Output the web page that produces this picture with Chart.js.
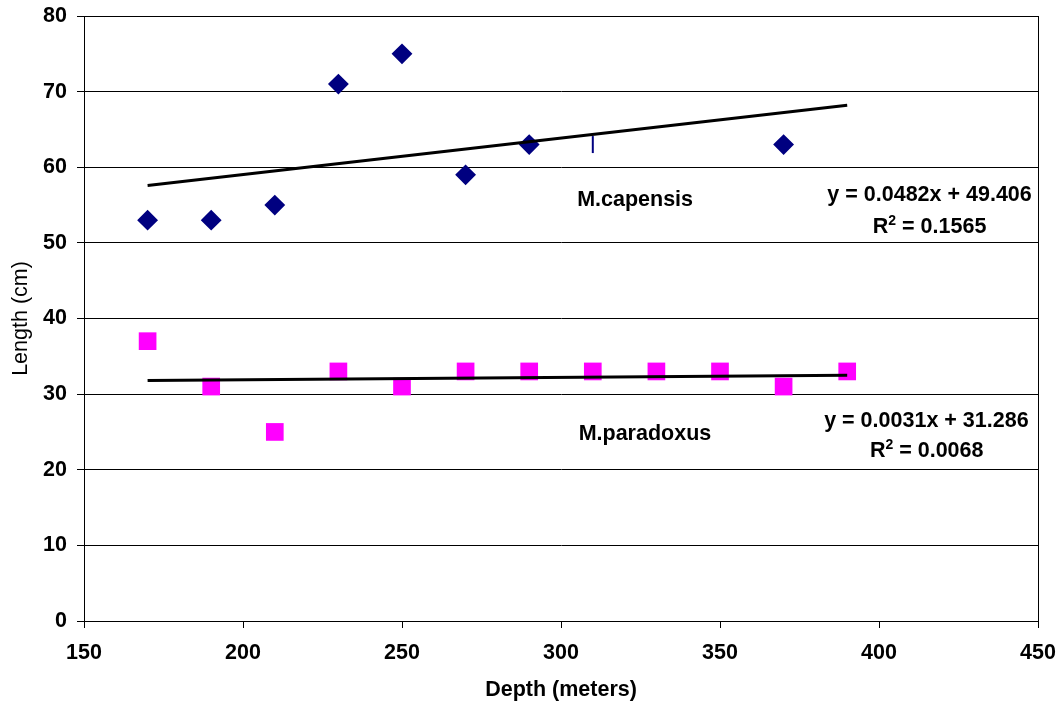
<!DOCTYPE html>
<html>
<head>
<meta charset="utf-8">
<title>Length vs depth</title>
<script src="https://cdn.jsdelivr.net/npm/chart.js@4/dist/chart.umd.min.js"></script>
<style>
    html, body { margin: 0; padding: 0; background: #fff; }
    #wrap { width: 1062px; height: 709px; }
</style>
</head>
<body>
<div id="wrap"><canvas id="lengthChart"></canvas></div>
<script>
// Depth (m) and mean length (cm) per species
const capensisDepth = [170, 190, 210, 230, 250, 270, 290, 310, 370];
const capensisLength = [53, 53, 55, 71, 75, 59, 63, 63, 63];
const paradoxusDepth = [170, 190, 210, 230, 250, 270, 290, 310, 330, 350, 370, 390];
const paradoxusLength = [37, 31, 25, 33, 31, 33, 33, 33, 33, 33, 31, 33];

// Linear trend: [slope, intercept], drawn over the depth range
const capensisFit = [0.0482, 49.406];
const paradoxusFit = [0.0031, 31.286];
const fitRange = [170, 390];

const xTicks = [150, 200, 250, 300, 350, 400, 450];
const yTicks = [0, 10, 20, 30, 40, 50, 60, 70, 80];

const FONT = '"Liberation Sans", Arial, sans-serif';

const toPoints = (xs, ys) => xs.map((x, i) => ({ x: x, y: ys[i] }));
const fitLine = fit => fitRange.map(x => ({ x: x, y: fit[0] * x + fit[1] }));

// odd point at 310 m shows up as a short vertical dash
const capStyles = capensisDepth.map(d => d === 310 ? 'line' : 'rectRot');
const capRotation = capensisDepth.map(d => d === 310 ? 90 : 0);
const capRadius = capensisDepth.map(d => d === 310 ? 8.5 : 9);

// text drawn in the plot, placed in axis units; sup = superscript after the first part
const notes = [
    { text: 'M.capensis', x: 323.3, y: 54.9 },
    { text: 'M.paradoxus', x: 326.4, y: 23.9 },
    { text: 'y = 0.0482x + 49.406', x: 415.9, y: 55.5 },
    { text: 'R', sup: '2', rest: ' = 0.1565', x: 415.9, y: 51.3 },
    { text: 'y = 0.0031x + 31.286', x: 414.9, y: 25.6 },
    { text: 'R', sup: '2', rest: ' = 0.0068', x: 415.0, y: 21.7 }
];

const BOLD = 'bold 21.5px ' + FONT;
const SUP = 'bold 14px ' + FONT;

const framePlugin = {
    id: 'frame',
    beforeDatasetsDraw(chart) {
        const { ctx, chartArea: a } = chart;
        ctx.save();
        ctx.strokeStyle = '#000';
        ctx.lineWidth = 1;
        ctx.strokeRect(Math.round(a.left) + 0.5, Math.round(a.top) + 0.5,
            Math.round(a.right - a.left), Math.round(a.bottom - a.top));
        ctx.restore();
    },
    afterDatasetsDraw(chart) {
        const { ctx, scales } = chart;
        ctx.save();
        ctx.fillStyle = '#000';
        ctx.textBaseline = 'alphabetic';
        ctx.textAlign = 'left';
        notes.forEach(n => {
            const px = scales.x.getPixelForValue(n.x);
            const py = scales.y.getPixelForValue(n.y);
            ctx.font = BOLD;
            const w1 = ctx.measureText(n.text).width;
            const w3 = n.rest ? ctx.measureText(n.rest).width : 0;
            ctx.font = SUP;
            const w2 = n.sup ? ctx.measureText(n.sup).width : 0;
            let x = px - (w1 + w2 + w3) / 2;
            ctx.font = BOLD;
            ctx.fillText(n.text, x, py);
            x += w1;
            if (n.sup) {
                ctx.font = SUP;
                ctx.fillText(n.sup, x, py - 8);
                x += w2;
                ctx.font = BOLD;
                ctx.fillText(n.rest, x, py);
            }
        });
        ctx.restore();
    }
};

new Chart(document.getElementById('lengthChart'), {
    type: 'scatter',
    data: {
        datasets: [
            {
                type: 'line',
                label: 'capensis trend',
                data: fitLine(capensisFit),
                borderColor: '#000',
                borderWidth: 3,
                pointRadius: 0,
                order: 0
            },
            {
                type: 'line',
                label: 'paradoxus trend',
                data: fitLine(paradoxusFit),
                borderColor: '#000',
                borderWidth: 3,
                pointRadius: 0,
                order: 0
            },
            {
                label: 'M.capensis',
                data: toPoints(capensisDepth, capensisLength),
                pointStyle: capStyles,
                rotation: capRotation,
                pointRadius: capRadius,
                backgroundColor: '#000080',
                borderColor: '#000080',
                borderWidth: 2,
                order: 1
            },
            {
                label: 'M.paradoxus',
                data: toPoints(paradoxusDepth, paradoxusLength),
                pointStyle: 'rect',
                pointRadius: 12.5,
                backgroundColor: '#FF00FF',
                borderColor: '#FF00FF',
                borderWidth: 0,
                order: 1
            }
        ]
    },
    options: {
        responsive: true,
        maintainAspectRatio: false,
        animation: false,
        layout: { padding: { top: 16, right: 24, left: 0, bottom: 0 } },
        plugins: {
            legend: { display: false },
            tooltip: { enabled: false }
        },
        scales: {
            x: {
                type: 'linear',
                min: 150,
                max: 450,
                afterBuildTicks: s => { s.ticks = xTicks.map(v => ({ value: v })); },
                afterFit: s => { s.height = 88; s.paddingLeft = 0; s.paddingRight = 0; },
                grid: { drawOnChartArea: false, drawTicks: true, tickLength: 7, color: '#000' },
                border: { display: true, color: '#000', width: 1 },
                ticks: { color: '#000', padding: 12, maxRotation: 0, font: { family: FONT, size: 21.5, weight: 'bold' } },
                title: {
                    display: true,
                    text: 'Depth (meters)',
                    color: '#000',
                    padding: 6,
                    font: { family: FONT, size: 21.5, weight: 'bold' }
                }
            },
            y: {
                min: 0,
                max: 80,
                afterBuildTicks: s => { s.ticks = yTicks.map(v => ({ value: v })); },
                afterFit: s => { s.width = 84; s.paddingTop = 0; s.paddingBottom = 0; },
                grid: { color: '#000', tickLength: 7, lineWidth: 1 },
                border: { display: true, color: '#000', width: 1 },
                ticks: { color: '#000', padding: 10, font: { family: FONT, size: 21.5, weight: 'bold' } },
                title: {
                    display: true,
                    text: 'Length (cm)',
                    color: '#000',
                    padding: 8,
                    font: { family: FONT, size: 21.5, weight: 'normal' }
                }
            }
        }
    },
    plugins: [framePlugin]
});
</script>
</body>
</html>
